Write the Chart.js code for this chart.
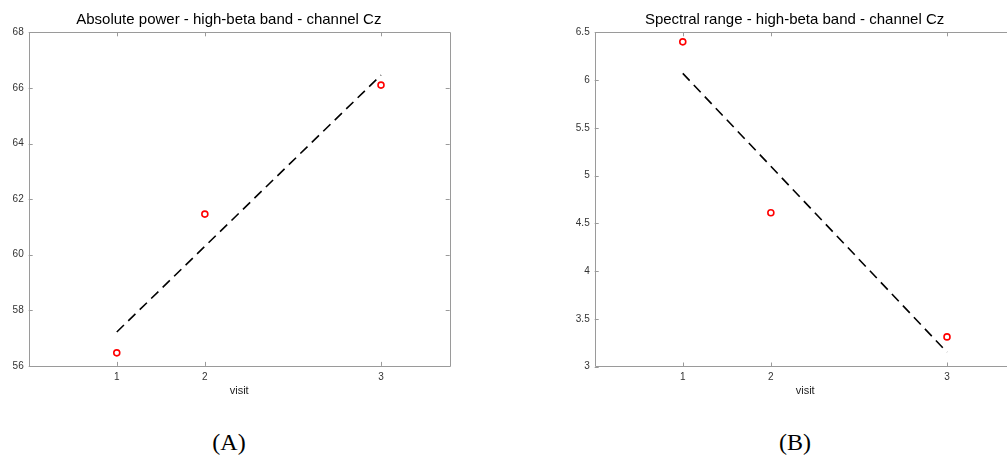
<!DOCTYPE html>
<html>
<head>
<meta charset="utf-8">
<script src="https://cdn.jsdelivr.net/npm/chart.js@4.4.1/dist/chart.umd.min.js"></script>
<style>
  html, body { margin: 0; padding: 0; background: #fff; width: 1007px; height: 459px; overflow: hidden; }
  .wrap { position: absolute; top: 0; }
  .cap { position: absolute; font-family: "Liberation Serif", "DejaVu Serif", serif; font-size: 24px; color: #000; transform: translate(-50%, -50%); white-space: nowrap; }
</style>
</head>
<body>
<div class="wrap" id="wa" style="left:0px;width:480px;height:420px"><canvas id="ca"></canvas></div>
<div class="wrap" id="wb" style="left:560px;width:480px;height:420px"><canvas id="cb"></canvas></div>
<div class="cap" style="left:229px;top:442px">(A)</div>
<div class="cap" style="left:795px;top:442px">(B)</div>
<script>
// ---- data ----
const visitX = [1, 2, 4];                 // x position of each visit
const xTickValues = [1, 2, 4];
const xTickLabels = ['1', '2', '3'];

const powerValues = [56.47, 61.46, 66.10];
const powerFitX = [1, 4];
const powerFitY = [57.22, 66.46];
const powerYTicks = [56, 58, 60, 62, 64, 66, 68];

const rangeValues = [6.40, 4.61, 3.31];
const rangeFitX = [1, 4];
const rangeFitY = [6.07, 3.15];
const rangeYTicks = [3, 3.5, 4, 4.5, 5, 5.5, 6, 6.5];

const titleA = 'Absolute power - high-beta band - channel Cz';
const titleB = 'Spectral range - high-beta band - channel Cz';
const xAxisTitle = 'visit';

// ---- box + inward ticks (MATLAB style), drawn through the chart's scales ----
const boxPlugin = {
  id: 'matlabBox',
  afterDraw(chart) {
    const {ctx, chartArea: a, scales} = chart;
    const tl = 4;
    ctx.save();
    ctx.strokeStyle = '#9a9a9a';
    ctx.lineWidth = 1;
    ctx.beginPath();
    ctx.rect(Math.round(a.left) + 0.5, Math.round(a.top) + 0.5, Math.round(a.right - a.left), Math.round(a.bottom - a.top));
    scales.x.ticks.forEach(t => {
      const px = Math.round(scales.x.getPixelForValue(t.value)) + 0.5;
      ctx.moveTo(px, a.bottom); ctx.lineTo(px, a.bottom - tl);
      ctx.moveTo(px, a.top); ctx.lineTo(px, a.top + tl);
    });
    scales.y.ticks.forEach(t => {
      const py = Math.round(scales.y.getPixelForValue(t.value)) + 0.5;
      ctx.moveTo(a.left, py); ctx.lineTo(a.left + tl, py);
      ctx.moveTo(a.right, py); ctx.lineTo(a.right - tl, py);
    });
    ctx.stroke();
    ctx.restore();
  }
};

function makeChart(id, title, values, fitX, fitY, yTicks, xMax, pad, yAxisWidth) {
  const scatterData = visitX.map((x, i) => ({x: x, y: values[i]}));
  const fitData = fitX.map((x, i) => ({x: x, y: fitY[i]}));
  return new Chart(document.getElementById(id), {
    type: 'scatter',
    data: {
      datasets: [
        {
          type: 'line', data: fitData, borderColor: '#000', borderWidth: 1.6,
          borderDash: [10, 6], pointRadius: 0, fill: false, order: 2
        },
        {
          data: scatterData, pointStyle: 'circle', pointRadius: 3,
          pointBorderWidth: 1.6, pointBorderColor: '#ff0000',
          pointBackgroundColor: 'rgba(0,0,0,0)', pointHoverRadius: 3, order: 1
        }
      ]
    },
    options: {
      responsive: true, maintainAspectRatio: false, animation: false,
      events: [],
      layout: { padding: pad },
      plugins: {
        legend: { display: false }, tooltip: { enabled: false },
        title: {
          display: true, text: title, color: '#000',
          font: { family: 'Liberation Sans, Arial, sans-serif', size: 15, weight: 'normal', lineHeight: 1.2 },
          padding: { top: 11, bottom: 3.3 }
        }
      },
      scales: {
        x: {
          type: 'linear', min: 0, max: xMax,
          grid: { display: false, drawTicks: false }, border: { display: false },
          afterBuildTicks: s => { s.ticks = xTickValues.map(v => ({value: v})); },
          ticks: {
            padding: 5, color: '#333', maxRotation: 0,
            font: { family: 'Liberation Sans, Arial, sans-serif', size: 10 },
            callback: (v) => { const i = xTickValues.indexOf(v); return i >= 0 ? xTickLabels[i] : ''; }
          },
          title: {
            display: true, text: xAxisTitle, color: '#222',
            font: { family: 'Liberation Sans, Arial, sans-serif', size: 11 },
            padding: { top: 0, bottom: 0 }
          },
          afterFit: s => { s.height = 31.4; }
        },
        y: {
          type: 'linear', min: yTicks[0], max: yTicks[yTicks.length - 1],
          grid: { display: false, drawTicks: false }, border: { display: false },
          afterBuildTicks: s => { s.ticks = yTicks.map(v => ({value: v})); },
          ticks: {
            padding: 5, color: '#333',
            font: { family: 'Liberation Sans, Arial, sans-serif', size: 10 },
            callback: v => String(v)
          },
          afterFit: s => { s.width = yAxisWidth; }
        }
      }
    },
    plugins: [boxPlugin]
  });
}

makeChart('ca', titleA, powerValues, powerFitX, powerFitY, powerYTicks, 4.78,
  { top: 0, left: 8, right: 30.3, bottom: 22.7 }, 20.7);
makeChart('cb', titleB, rangeValues, rangeFitX, rangeFitY, rangeYTicks, 4.78,
  { top: 0, left: 13.5, right: 24.3, bottom: 22.1 }, 21.2);
</script>
</body>
</html>
